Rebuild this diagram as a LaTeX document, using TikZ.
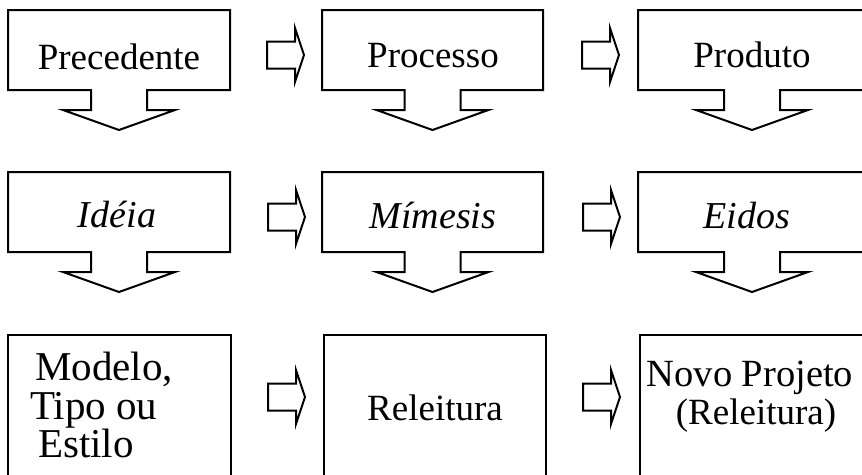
\documentclass[tikz,border=0pt]{standalone}
\usepackage{fontspec}
\setmainfont{Liberation Serif}
% callout box with a downward block arrow: #1 left, #2 right, #3 top
\newcommand\downcallout[3]{%
  \draw[outline] (#1,#3) -- (#2,#3) -- (#2,#3+80)
    -- ({(#1+#2)/2+28},#3+80) -- ({(#1+#2)/2+28},#3+100)
    -- ({(#1+#2)/2+56},#3+100) -- ({(#1+#2)/2},#3+120)
    -- ({(#1+#2)/2-56},#3+100) -- ({(#1+#2)/2-28},#3+100)
    -- ({(#1+#2)/2-28},#3+80) -- (#1,#3+80) -- cycle;}
% small block arrow pointing right: #1 left end, #2 vertical centre
\newcommand\rightblock[2]{%
  \draw[outline] (#1,#2-13.5) -- (#1+28,#2-13.5) -- (#1+28,#2-27)
    -- (#1+37,#2) -- (#1+28,#2+27) -- (#1+28,#2+13.5)
    -- (#1,#2+13.5) -- cycle;}
% open box running off the lower edge: #1 left, #2 right, #3 top
\newcommand\openbox[3]{%
  \draw[outline] (#1,490) -- (#1,#3) -- (#2,#3) -- (#2,490);}
\begin{document}
\begin{tikzpicture}[x=1pt,y=-1pt,
  outline/.style={draw=black,line width=2pt,line join=miter},
  lbl/.style={inner sep=0pt,anchor=base,font=\fontsize{37}{40}\selectfont},
  itlbl/.style={lbl,font=\fontsize{38}{40}\selectfont\itshape},
  biglbl/.style={lbl,anchor=base west,font=\fontsize{41}{44}\selectfont}]
\useasboundingbox (0,0) rectangle (862,474);
\begin{scope}
\clip (0,0) rectangle (862,474);
% first row
\downcallout{8}{230}{10}
\downcallout{322}{543}{10}
\downcallout{638}{866}{10}
\rightblock{267}{55}
\rightblock{582}{55}
% second row
\downcallout{8}{230}{172}
\downcallout{322}{543}{172}
\downcallout{638}{866}{172}
\rightblock{268}{217}
\rightblock{583}{217}
% third row
\openbox{8}{231}{335}
\openbox{324}{546}{335}
\openbox{640}{866}{335}
\rightblock{268}{397}
\rightblock{583}{397}
\end{scope}
% labels
\node[lbl] (precedente) at (119,69) {Precedente};
\node[lbl] (processo) at (433,67) {Processo};
\node[lbl] (produto) at (752,67) {Produto};
\node[itlbl] (ideia) at (117,227) {Idéia};
\node[itlbl] (mimesis) at (433,228) {Mímesis};
\node[itlbl] (eidos) at (747,228) {Eidos};
\node[biglbl] (modelo) at (35,380) {Modelo,};
\node[biglbl] (tipo) at (30,419) {Tipo ou};
\node[biglbl] (estilo) at (38,457) {Estilo};
\node[lbl] (releitura) at (435,420) {Releitura};
\node[lbl,font=\fontsize{38.5}{40}\selectfont] (novo) at (750,386) {Novo Projeto};
\node[lbl] (novoreleitura) at (756,424) {(Releitura)};
\end{tikzpicture}
\end{document}
